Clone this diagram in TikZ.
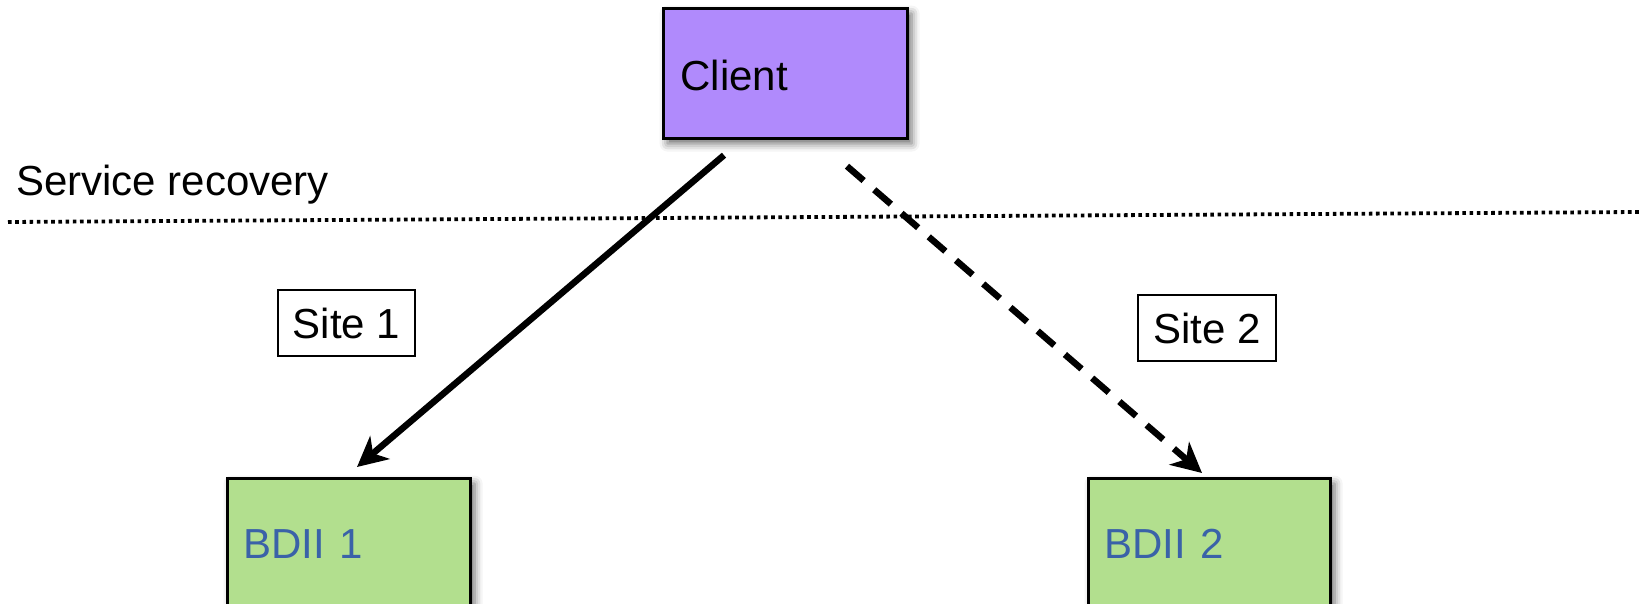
\documentclass[tikz,border=0pt]{standalone}
\usepackage{fontspec}
\setmainfont{Liberation Sans}
\usetikzlibrary{arrows.meta,shadows.blur}
\definecolor{clientfill}{RGB}{176,138,252}
\definecolor{bdiifill}{RGB}{178,223,142}
\definecolor{bdiitext}{RGB}{58,98,168}
\tikzset{
  bigfont/.style={font=\fontsize{42}{50}\selectfont},
  shadowed/.style={blur shadow={shadow xshift=4pt, shadow yshift=-5pt, shadow blur radius=8pt, shadow opacity=60}},
  clientbox/.style={bigfont, draw=black, line width=3.2pt, fill=clientfill, shadowed, rectangle,
    anchor=north west, align=left, inner ysep=0pt},
  bdiibox/.style={bigfont, draw=black, line width=3.2pt, fill=bdiifill, shadowed, rectangle,
    anchor=north west, align=left, inner ysep=0pt, text=bdiitext},
  sitebox/.style={bigfont, draw=black, line width=1.5pt, fill=white, rectangle,
    minimum width=137pt, minimum height=66pt, inner sep=0pt},
  arrowline/.style={line width=6.5pt, -{Stealth[length=30pt,width=30pt,inset=9pt]}},
  dashline/.style={arrowline, dash pattern=on 22pt off 14pt},
  sepline/.style={line width=3.8pt, dash pattern=on 3.6pt off 3.6pt},
}
\begin{document}
\begin{tikzpicture}[x=1pt,y=-1pt]
\useasboundingbox (0,0) rectangle (1639,604);
% separator
\coordinate (dl) at (8,222);
\coordinate (dr) at (1639,212);
\draw[sepline] (dl) -- (dr);
\node[bigfont, anchor=base west, inner sep=0pt] (svc) at (16,196) {Service recovery};
% boxes
\node[clientbox, inner xsep=17pt, text width=210pt, text height=82pt, text depth=48pt] (client) at (662,7) {Client};
\node[bdiibox, inner xsep=16pt, text width=211pt, text height=80pt, text depth=120pt] (b1) at (226,477) {BDII 1};
\node[bdiibox, inner xsep=16pt, text width=210pt, text height=80pt, text depth=120pt] (b2) at (1087,477) {BDII 2};
% site labels
\node[sitebox] (site1) at (346.5,323) {Site 1};
\node[sitebox, minimum width=138pt] (site2) at (1207,328) {Site 2};
% connectors
\coordinate (s1) at ([xshift=62pt,yshift=-15pt]client.south west);
\coordinate (t1) at ([xshift=131pt,yshift=10pt]b1.north west);
\coordinate (s2) at ([xshift=185pt,yshift=-26pt]client.south west);
\coordinate (t2) at ([xshift=115pt,yshift=4pt]b2.north west);
\draw[arrowline] (s1) -- (t1);
\draw[dashline] (s2) -- (t2);
\end{tikzpicture}
\end{document}
